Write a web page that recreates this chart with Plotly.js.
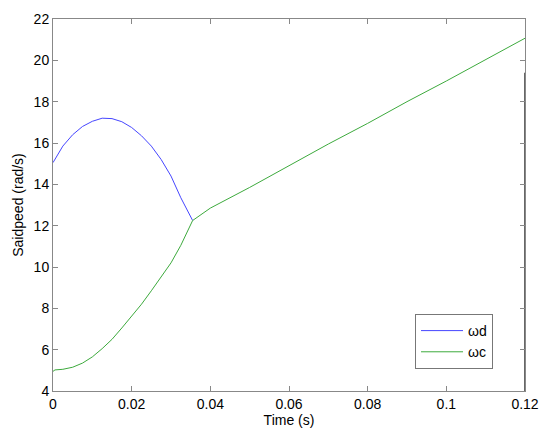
<!DOCTYPE html>
<html>
<head>
<meta charset="utf-8">
<script src="https://cdn.plot.ly/plotly-3.0.1.min.js"></script>
<style>
	html, body { margin: 0; padding: 0; background: #fff; }
	#chart { width: 550px; height: 440px; }
</style>
</head>
<body>
<div id="chart"></div>
<script>
"use strict";

// omega d (blue)
var timeD = [0, 0.0025, 0.005, 0.0075, 0.01, 0.0125, 0.015, 0.0175, 0.02, 0.0225, 0.025, 0.0275, 0.03, 0.0325, 0.0355];
var speedD = [15.05, 15.85, 16.4, 16.8, 17.05, 17.2, 17.18, 17.03, 16.75, 16.35, 15.85, 15.2, 14.4, 13.35, 12.25];

// omega c (green)
var timeC = [0, 0.0005, 0.0025, 0.005, 0.0075, 0.01, 0.0125, 0.015, 0.0175, 0.02, 0.0225, 0.025, 0.0275, 0.03, 0.0325, 0.0355,
	0.04, 0.045, 0.05, 0.06, 0.07, 0.08, 0.09, 0.1, 0.11, 0.12];
var speedC = [4.95, 5.02, 5.05, 5.15, 5.35, 5.65, 6.05, 6.5, 7.05, 7.6, 8.2, 8.85, 9.5, 10.2, 11.05, 12.25,
	12.85, 13.35, 13.85, 14.9, 15.95, 16.95, 18.0, 19.0, 20.05, 21.07];

// dark spike at the right edge
var spikeX = [0.1199, 0.1199];
var spikeY = [4, 19.4];

var xTicks = [0, 0.02, 0.04, 0.06, 0.08, 0.1, 0.12];
var xTickText = ["0", "0.02", "0.04", "0.06", "0.08", "0.1", "0.12"];
var yTicks = [4, 6, 8, 10, 12, 14, 16, 18, 20, 22];

var font = { family: "Liberation Sans, Arial, sans-serif", size: 14, color: "#000" };

var axisBase = {
	showline: true,
	linecolor: "#888",
	linewidth: 1,
	mirror: "ticks",
	ticks: "inside",
	ticklen: 5,
	tickcolor: "#888",
	showgrid: false,
	zeroline: false,
	tickfont: font
};

var data = [
	{
		x: timeD, y: speedD,
		mode: "lines",
		name: "\u03c9d",
		line: { color: "#4646ff", width: 1 }
	},
	{
		x: timeC, y: speedC,
		mode: "lines",
		name: "\u03c9c",
		line: { color: "#3daa3d", width: 1 }
	},
	{
		x: spikeX, y: spikeY,
		mode: "lines",
		showlegend: false,
		hoverinfo: "skip",
		line: { color: "#555", width: 1 }
	}
];

var layout = {
	width: 550,
	height: 440,
	margin: { l: 53, r: 25, t: 19, b: 49 },
	paper_bgcolor: "#fff",
	plot_bgcolor: "#fff",
	font: font,
	showlegend: true,
	xaxis: Object.assign({}, axisBase, {
		range: [0, 0.12],
		tickvals: xTicks,
		ticktext: xTickText,
		title: { text: "Time (s)", font: font, standoff: 2 }
	}),
	yaxis: Object.assign({}, axisBase, {
		range: [4, 22],
		tickvals: yTicks,
		title: { text: "Saidpeed (rad/s)", font: font, standoff: 6 }
	}),
	legend: {
		x: 0.767,
		y: 0.207,
		xanchor: "left",
		yanchor: "top",
		bgcolor: "#fff",
		bordercolor: "#777",
		borderwidth: 1,
		font: font,
		itemwidth: 42,
		tracegroupgap: 0
	}
};

Plotly.newPlot("chart", data, layout, { staticPlot: true });
</script>
</body>
</html>
